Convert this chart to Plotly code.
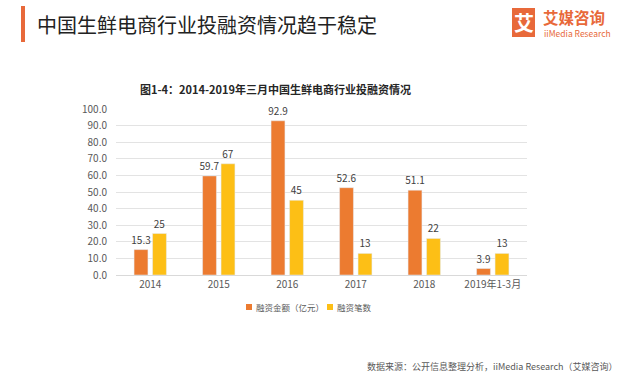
import plotly.graph_objects as go

categories = ["2014", "2015", "2016", "2017", "2018", "2019年1-3月"]
amount = [15.3, 59.7, 92.9, 52.6, 51.1, 3.9]
count = [25, 67, 45, 13, 22, 13]
amount_labels = ["15.3", "59.7", "92.9", "52.6", "51.1", "3.9"]
count_labels = ["25", "67", "45", "13", "22", "13"]
yticks = [0, 10, 20, 30, 40, 50, 60, 70, 80, 90, 100]
series_names = ["融资金额（亿元）", "融资笔数"]

FONT = "Noto Sans CJK SC"
ORANGE = "#EC7B30"
YELLOW = "#FDBF16"
BRAND = "#E8693A"
L, T, PW, PH = 116, 109, 411, 166


def px(x):
    return (x - L) / PW


def py(y):
    return (T + PH - y) / PH


fig = go.Figure()
fig.add_trace(go.Bar(x=categories, y=amount, name=series_names[0], marker_color=ORANGE,
                     text=amount_labels, textposition="outside", cliponaxis=False,
                     constraintext="none",
                     textfont=dict(size=10, color="#404040", family=FONT)))
fig.add_trace(go.Bar(x=categories, y=count, name=series_names[1], marker_color=YELLOW,
                     text=count_labels, textposition="outside", cliponaxis=False,
                     constraintext="none",
                     textfont=dict(size=10, color="#404040", family=FONT)))

fig.update_layout(
    width=635, height=377,
    margin=dict(l=L, r=635 - L - PW, t=T, b=377 - T - PH),
    paper_bgcolor="white", plot_bgcolor="white",
    barmode="group", bargap=0.46, bargroupgap=0.25,
    font=dict(family=FONT, color="#595959", size=10),
    showlegend=False,
    xaxis=dict(showgrid=False, showline=True, linecolor="#D9D9D9", ticks="",
               tickfont=dict(size=10, color="#595959")),
    yaxis=dict(range=[0, 100], tickvals=yticks, tickformat=".1f", showgrid=True,
               gridcolor="#E3E3E3", zeroline=False, ticks="", ticklabelstandoff=8,
               tickfont=dict(size=10, color="#595959")),
)

# manual legend
for sx, tx, color, name in [(246, 254, ORANGE, series_names[0]), (327, 335, YELLOW, series_names[1])]:
    fig.add_shape(type="rect", xref="paper", yref="paper",
                  x0=px(sx), x1=px(sx + 6), y0=py(310), y1=py(304),
                  fillcolor=color, line_width=0)
    fig.add_annotation(text=name, xref="paper", yref="paper",
                       x=px(tx), y=py(307), xanchor="left", yanchor="middle",
                       showarrow=False, font=dict(size=8.5, color="#595959", family=FONT))

# header bar
fig.add_shape(type="rect", xref="paper", yref="paper",
              x0=px(21), x1=px(25), y0=py(42), y1=py(6),
              fillcolor=BRAND, line_width=0)
fig.add_annotation(text="中国生鲜电商行业投融资情况趋于稳定", xref="paper", yref="paper",
                   x=px(35), y=py(25), xanchor="left", yanchor="middle",
                   showarrow=False, font=dict(size=20, color="#222222", family=FONT))
# logo
fig.add_shape(type="rect", xref="paper", yref="paper",
              x0=px(512), x1=px(535), y0=py(37), y1=py(8),
              fillcolor=BRAND, line_width=0)
fig.add_annotation(text="<b>艾</b>", xref="paper", yref="paper",
                   x=px(523.5), y=py(22.5), xanchor="center", yanchor="middle",
                   showarrow=False, font=dict(size=20, color="white", family=FONT))
fig.add_annotation(text="<b>艾媒咨询</b>", xref="paper", yref="paper",
                   x=px(541), y=py(17), xanchor="left", yanchor="middle",
                   showarrow=False, font=dict(size=15.5, color=BRAND, family=FONT))
fig.add_annotation(text="iiMedia Research", xref="paper", yref="paper",
                   x=px(542), y=py(33.5), xanchor="left", yanchor="middle",
                   showarrow=False, font=dict(size=8.5, color=BRAND, family=FONT))
# chart title
fig.add_annotation(text="<b>图1-4：2014-2019年三月中国生鲜电商行业投融资情况</b>", xref="paper", yref="paper",
                   x=px(275), y=py(89), xanchor="center", yanchor="middle",
                   showarrow=False, font=dict(size=11, color="#262626", family=FONT))
# source
fig.add_annotation(text="数据来源：公开信息整理分析，iiMedia Research（艾媒咨询）", xref="paper", yref="paper",
                   x=px(620), y=py(366), xanchor="right", yanchor="middle",
                   showarrow=False, font=dict(size=9, color="#595959", family=FONT))

fig.write_html("out.html", config={"displayModeBar": False},
               post_script="document.body.style.margin='0';")
